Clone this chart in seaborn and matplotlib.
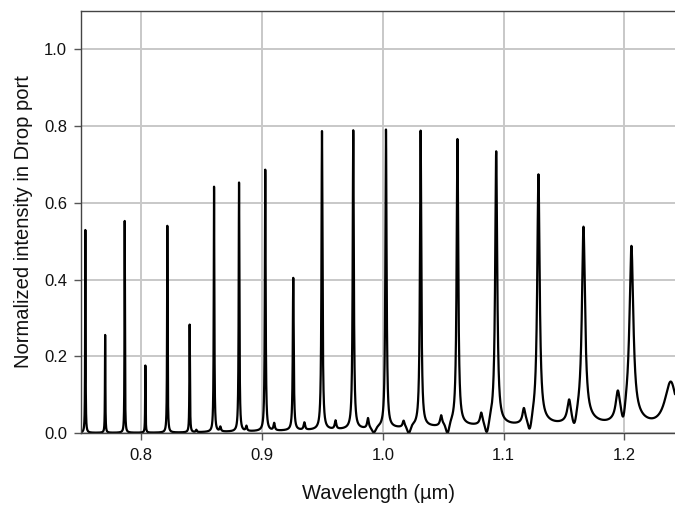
import numpy as np
import pandas as pd
import matplotlib
matplotlib.use("Agg")
import matplotlib.pyplot as plt
import seaborn as sns

# ---- data ----
# main resonances (drop-port peaks)
peak_wl = [0.7536, 0.7700, 0.7862, 0.8033, 0.8215, 0.8400, 0.8602, 0.8809, 0.9026, 0.9258,
           0.9496, 0.9755, 1.0026, 1.0313, 1.0618, 1.0939, 1.1289, 1.1662, 1.2059]
peak_h = [0.529, 0.255, 0.552, 0.175, 0.539, 0.281, 0.639, 0.649, 0.681, 0.397,
          0.778, 0.778, 0.777, 0.770, 0.744, 0.708, 0.643, 0.500, 0.446]
peak_fwhm = [0.0004, 0.0004, 0.0004, 0.0004, 0.0005, 0.0005, 0.0006, 0.0007, 0.0008, 0.0009,
             0.0010, 0.0011, 0.0012, 0.0013, 0.0016, 0.0020, 0.0024, 0.0031, 0.0038]
# broad pedestal under each main resonance
ped_h = [0, 0, 0, 0, 0, 0, 0.001, 0.001, 0.002, 0.003,
         0.004, 0.005, 0.007, 0.010, 0.013, 0.016, 0.020, 0.026, 0.030]
ped_fwhm = 0.030
# secondary (weak) resonances
minor_wl = [0.8455, 0.8654, 0.8870, 0.9100, 0.9350, 0.9608, 0.9877, 1.0172, 1.0483,
            1.0815, 1.1168, 1.1543, 1.1946, 1.2385]
minor_h = [0.006, 0.012, 0.013, 0.019, 0.019, 0.022, 0.026, 0.016, 0.026,
           0.028, 0.035, 0.052, 0.068, 0.125]
minor_fwhm = [0.0010, 0.0012, 0.0012, 0.0013, 0.0014, 0.0015, 0.0016, 0.0018, 0.0020,
              0.0022, 0.0026, 0.0034, 0.0040, 0.0120]
# interference dips
dip_wl = [0.9925, 1.0215, 1.0535, 1.0860, 1.1215, 1.1585, 1.1990]
dip_depth = [0.9, 1.0, 1.0, 0.92, 0.75, 0.55, 0.45]
dip_sigma = [0.0015, 0.0013, 0.0013, 0.0014, 0.0014, 0.0015, 0.0013]

x_ticks = [0.8, 0.9, 1.0, 1.1, 1.2]
y_ticks = [0.0, 0.2, 0.4, 0.6, 0.8, 1.0]


def lorentz(x, c, h, fwhm):
    g = fwhm / 2.0
    return h * g * g / (g * g + (x - c) ** 2)


wl = np.linspace(0.75, 1.2425, 40000)
inten = np.zeros_like(wl)
for c, h, w, p in zip(peak_wl, peak_h, peak_fwhm, ped_h):
    inten += lorentz(wl, c, h, w) + lorentz(wl, c, p, ped_fwhm)
for c, h, w in zip(minor_wl, minor_h, minor_fwhm):
    inten += lorentz(wl, c, h, w)
for c, d, s in zip(dip_wl, dip_depth, dip_sigma):
    inten *= 1.0 - d * np.exp(-0.5 * ((wl - c) / s) ** 2)

df = pd.DataFrame({"wl": wl, "I": inten})

# ---- plot ----
sns.set_theme(style="white")
plt.rcParams["font.family"] = ["Liberation Sans", "DejaVu Sans"]

fig = plt.figure(figsize=(6.75, 5.07), dpi=100)
ax = fig.add_axes([81 / 675, (507 - 433) / 507, (675 - 81) / 675, (433 - 11) / 507])

sns.lineplot(data=df, x="wl", y="I", ax=ax, color="black", linewidth=1.6,
             estimator=None, sort=False)

ax.set_xlim(0.75, 1.242)
ax.set_ylim(0, 1.1)
ax.set_xticks(x_ticks)
ax.set_xticklabels([f"{v:.1f}" for v in x_ticks])
ax.set_yticks(y_ticks)
ax.set_yticklabels([f"{v:.1f}" for v in y_ticks])
ax.grid(True, color="#c8c8c8", linewidth=1.4)
ax.set_axisbelow(True)
ax.tick_params(axis="both", direction="out", length=5, width=1, color="#555555",
               labelsize=12, labelcolor="#111111", bottom=True, left=True)
ax.tick_params(axis="x", pad=6)
ax.tick_params(axis="y", pad=5)
for s in ["left", "bottom", "top"]:
    ax.spines[s].set_visible(True)
    ax.spines[s].set_color("#444444")
    ax.spines[s].set_linewidth(1.0)
ax.spines["right"].set_visible(False)

ax.set_xlabel("Wavelength (\u00b5m)", fontsize=14.5, color="#111111", labelpad=15)
ax.set_ylabel("Normalized intensity in Drop port", fontsize=14.5, color="#111111", labelpad=8)

fig.savefig("out.png", dpi=100)
